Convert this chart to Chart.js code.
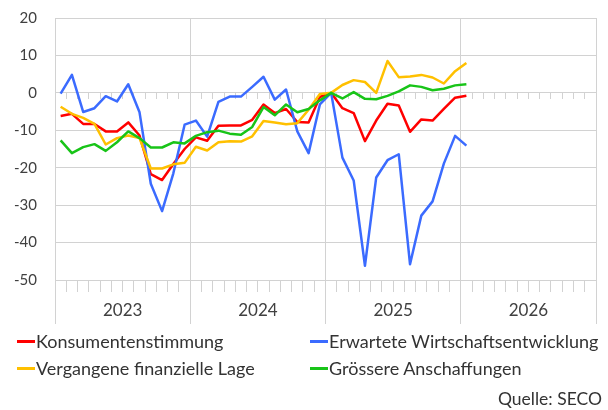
<!DOCTYPE html>
<html>
<head>
<meta charset="utf-8">
<script src="https://cdn.jsdelivr.net/npm/chart.js@4.4.1/dist/chart.umd.min.js"></script>
<style>
  body { margin: 0; background: #fff; }
  #wrap { position: relative; width: 608px; height: 410px; font-family: Lato, sans-serif; color: #333; }
  #chart { position: absolute; left: 0; top: 0; }
  .item { position: absolute; font-size: 18px; line-height: 20px; white-space: nowrap; }
  .swatch { position: absolute; width: 18px; height: 2.5px; }
  #source { position: absolute; right: 6px; top: 389px; font-size: 17.5px; line-height: 20px; }
</style>
</head>
<body>
<div id="wrap">
  <canvas id="chart" width="608" height="410"></canvas>
  <div id="legend"></div>
  <div id="source">Quelle: SECO</div>
</div>
<script>
// monthly values Jan 2023 - Jan 2026
const years = ['2023', '2024', '2025', '2026'];
const months = ['Jan', 'Feb', 'Mär', 'Apr', 'Mai', 'Jun', 'Jul', 'Aug', 'Sep', 'Okt', 'Nov', 'Dez'];

const seriesNames = ['Konsumentenstimmung', 'Erwartete Wirtschaftsentwicklung', 'Vergangene finanzielle Lage', 'Grössere Anschaffungen'];
const seriesColors = ['#ff0000', '#3b6bff', '#ffc000', '#18c418'];

const konsumentenstimmung = [-6.2, -5.6, -8.3, -8.3, -10.3, -10.3, -7.9, -11.4, -21.7, -23.3, -19.0, -15.0,
  -11.9, -12.8, -8.8, -8.7, -8.7, -7.2, -3.1, -5.4, -4.3, -7.8, -7.9, -1.1,
  0, -4.1, -5.4, -12.9, -7.4, -2.9, -3.4, -10.4, -7.1, -7.4, -4.3, -1.3,
  -0.8];
const wirtschaftsentwicklung = [-0.2, 4.8, -5.1, -4.1, -0.9, -2.3, 2.3, -5.2, -24.3, -31.6, -21.5, -8.5,
  -7.4, -11.7, -2.4, -1.0, -1.0, 1.6, 4.3, -1.8, 0.9, -10.3, -16.1, -3.1,
  0, -17.3, -23.4, -46.2, -22.6, -18.0, -16.4, -45.8, -32.8, -29.0, -18.9, -11.5,
  -14.1];
const finanzielleLage = [-3.7, -5.6, -6.7, -8.3, -13.8, -12.1, -11.4, -12.1, -20.2, -20.2, -19.1, -18.7,
  -14.4, -15.4, -13.2, -12.9, -13.0, -11.6, -7.5, -7.9, -8.4, -8.1, -4.5, -0.3,
  0, 2.1, 3.4, 2.9, 0, 8.5, 4.2, 4.4, 4.8, 4.1, 2.5, 5.8,
  8.0];
const anschaffungen = [-12.7, -16.1, -14.5, -13.7, -15.5, -13.2, -10.3, -12.1, -14.6, -14.6, -13.2, -13.5,
  -11.5, -10.5, -10.1, -10.9, -11.2, -9.1, -3.8, -6.0, -3.1, -5.2, -4.3, -2.0,
  0, -1.5, 0.2, -1.6, -1.7, -0.8, 0.4, 2.0, 1.6, 0.7, 1.1, 2.0,
  2.3];

const yTicks = [20, 10, 0, -10, -20, -30, -40, -50];

const seriesValues = [konsumentenstimmung, wirtschaftsentwicklung, finanzielleLage, anschaffungen];
const labels = years.flatMap(y => months.map(m => m + ' ' + y));

const gridColor = '#d2d2d2';
const textColor = '#404040';
Chart.defaults.font.family = 'Lato';

new Chart(document.getElementById('chart'), {
  type: 'line',
  data: {
    labels: labels,
    datasets: seriesNames.map((name, i) => ({
      label: name,
      data: seriesValues[i],
      borderColor: seriesColors[i],
      backgroundColor: seriesColors[i],
      borderWidth: 2.5,
      pointRadius: 0,
      tension: 0,
      borderJoinStyle: 'round',
      order: seriesNames.length - i
    }))
  },
  options: {
    responsive: false,
    animation: false,
    layout: { padding: { top: 18, right: 12, left: 0, bottom: 74 } },
    plugins: { legend: { display: false }, tooltip: { enabled: false } },
    scales: {
      y: {
        min: yTicks[yTicks.length - 1],
        max: yTicks[0],
        afterFit: s => { s.width = 55; },
        // invisible tick marks keep the labels 18px off the axis
        ticks: { stepSize: 10, padding: 0, color: textColor, font: { size: 15 } },
        grid: { color: gridColor, drawTicks: true, tickLength: 18, tickColor: 'rgba(0,0,0,0)' },
        border: { display: true, color: gridColor }
      },
      x: {
        type: 'category',
        position: 'bottom',
        weight: 1,
        offset: true,
        afterFit: s => { s.height = 12; },
        ticks: { display: false, autoSkip: false },
        grid: { offset: true, drawOnChartArea: false, tickLength: 12, color: gridColor },
        border: { display: true, color: gridColor }
      },
      xYear: {
        type: 'category',
        axis: 'x',
        position: 'bottom',
        weight: 2,
        labels: years,
        offset: true,
        afterFit: s => { s.height = 44; },
        ticks: { padding: -24, color: textColor, font: { size: 17 }, autoSkip: false, maxRotation: 0 },
        grid: { offset: true, drawOnChartArea: true, tickLength: 32, color: gridColor },
        border: { display: false }
      },
      xZero: {
        type: 'category',
        axis: 'x',
        position: { y: 0 },
        offset: true,
        ticks: { display: false, autoSkip: false },
        grid: { offset: true, drawOnChartArea: false, tickLength: 6, color: gridColor },
        border: { display: false }
      }
    }
  }
});

// legend in two columns, built from the series arrays
const legend = document.getElementById('legend');
seriesNames.forEach((name, i) => {
  const col = i % 2, row = Math.floor(i / 2);
  const x = col ? 310 : 17;
  const y = 331 + row * 27;
  const sw = document.createElement('div');
  sw.className = 'swatch';
  sw.style.left = x + 'px';
  sw.style.top = (y + 9) + 'px';
  sw.style.background = seriesColors[i];
  legend.appendChild(sw);
  const t = document.createElement('div');
  t.className = 'item';
  t.style.left = (x + 19) + 'px';
  t.style.top = y + 'px';
  t.textContent = name;
  legend.appendChild(t);
});
</script>
</body>
</html>
